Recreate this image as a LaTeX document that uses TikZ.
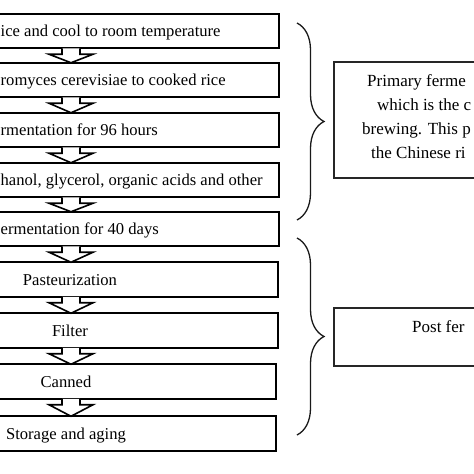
\documentclass[tikz,border=0pt]{standalone}
\usepackage{fontspec}
\setmainfont{Liberation Serif}
\usetikzlibrary{calc,decorations.pathreplacing}
\tikzset{
  lbox/.style={draw=black, line width=1.8pt, rectangle, inner sep=0pt, outer sep=0pt, minimum height=34.5pt},
  rbox/.style={draw=black!85, line width=1.2pt, rectangle, inner sep=0pt, outer sep=0pt},
  ltext/.style={inner sep=0pt, font=\fontsize{16.6}{19}\selectfont},
  rtext/.style={inner sep=0pt, anchor=base west, font=\fontsize{17}{20}\selectfont},
  barrow/.style={draw=black, line width=1.6pt, fill=white, line join=miter},
  bracestyle/.style={draw=black!90, line width=1.3pt, decorate, decoration={brace, amplitude=27pt}}
}
\newcommand\blockarr[2]{%
  \draw[barrow] let \p1=(#1.south), \p2=(#2.north) in
    (62pt,\y1) -- (62pt,\y1-6pt) -- (49pt,\y1-6pt) -- (71pt,\y2) --
    (93pt,\y1-6pt) -- (80pt,\y1-6pt) -- (80pt,\y1);}
\begin{document}
\begin{tikzpicture}[x=1pt,y=-1pt]
\useasboundingbox (0,0) rectangle (474,474);
\clip (0,0) rectangle (474,474);
% left boxes
\node[lbox, minimum width=399pt] (b1) at (79.5,31) {};
\node[lbox, minimum width=399pt] (b2) at (79.5,80) {};
\node[lbox, minimum width=399pt] (b3) at (79.5,130) {};
\node[lbox, minimum width=399pt] (b4) at (79.5,180) {};
\node[lbox, minimum width=399pt] (b5) at (79.5,229) {};
\node[lbox, minimum width=398pt] (b6) at (79,279.5) {};
\node[lbox, minimum width=398pt] (b7) at (79,330.5) {};
\node[lbox, minimum width=396pt] (b8) at (78,381.5) {};
\node[lbox, minimum width=396pt] (b9) at (78,433.5) {};
% texts
\node[ltext, anchor=base west] (t1) at (0.5,36.5) {ice and cool to room temperature};
\node[ltext, anchor=base west] (t2) at (0.5,85.5) {romyces cerevisiae to cooked rice};
\node[ltext, anchor=base west] (t3) at (0.5,135.5) {rmentation for 96 hours};
\node[ltext, anchor=base west] (t4) at (0.5,185.5) {hanol, glycerol, organic acids and other};
\node[ltext, anchor=base west] (t5) at (0.5,234.5) {ermentation for 40 days};
\node[ltext, anchor=base] (t6) at (70,285) {Pasteurization};
\node[ltext, anchor=base] (t7) at (70,336) {Filter};
\node[ltext, anchor=base] (t8) at (66,387) {Canned};
\node[ltext, anchor=base] (t9) at (66,439) {Storage and aging};
% arrows
\blockarr{b1}{b2}
\blockarr{b2}{b3}
\blockarr{b3}{b4}
\blockarr{b4}{b5}
\blockarr{b5}{b6}
\blockarr{b6}{b7}
\blockarr{b7}{b8}
\blockarr{b8}{b9}
% braces
\coordinate (br1s) at (297,23);
\coordinate (br1e) at (297,220);
\coordinate (br2s) at (297,238);
\coordinate (br2e) at (297,435);
\draw[bracestyle] (br1s) -- (br1e);
\draw[bracestyle] (br2s) -- (br2e);
% right boxes
\node[rbox, minimum width=300pt, minimum height=116pt] (ra) at (484,120) {};
\node[rbox, minimum width=300pt, minimum height=58pt] (rb) at (484,337) {};
\node[rtext] (ra1) at (367,86) {Primary ferme};
\node[rtext] (ra2) at (377,110) {which is the c};
\node[rtext] (ra3) at (362,134) {brewing. This p};
\node[rtext] (ra4) at (371,158) {the Chinese ri};
\node[rtext] (rb1) at (412,332) {Post fer};
\end{tikzpicture}
\end{document}
